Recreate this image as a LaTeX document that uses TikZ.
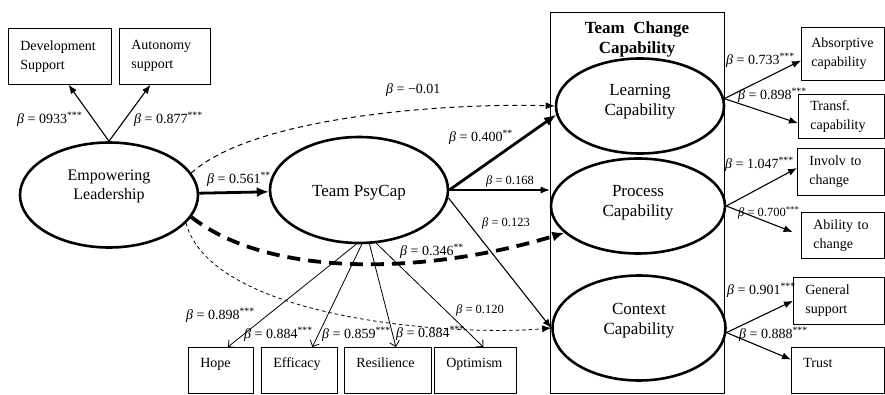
\documentclass[tikz,border=0pt]{standalone}
\usepackage{fontspec}
\setmainfont{Liberation Serif}
\usetikzlibrary{shapes.geometric,arrows.meta,calc}
\tikzset{
  >={Latex[length=9pt,width=7pt]},
  x=1pt, y=-1pt,
}
\tikzstyle{latent}=[draw,ellipse,line width=2.6pt,inner sep=0pt]
\tikzstyle{lattext}=[align=center,font=\fontsize{17}{20}\selectfont]
\tikzstyle{indicator}=[draw,line width=0.7pt,anchor=north west,align=left,inner xsep=12pt,font=\fontsize{14}{19}\selectfont]
\tikzstyle{single}=[indicator,text height=11pt,text depth=16pt,inner ysep=9.5pt]
\tikzstyle{coef}=[anchor=west,inner sep=0pt,font=\fontsize{14}{16}\selectfont]
\tikzstyle{smallcoef}=[coef,font=\fontsize{12.5}{14}\selectfont]
\tikzstyle{effect}=[->,line width=1.1pt]
\tikzstyle{strong}=[-{Latex[length=12pt,width=10pt]},line width=2.8pt]
\tikzstyle{loading}=[-{Straight Barb[length=5pt,width=10pt]},line width=0.8pt]
\tikzstyle{weak}=[->,dash pattern=on 5pt off 4pt,line width=1pt]
\tikzstyle{faint}=[->,dash pattern=on 3.5pt off 3pt,line width=0.8pt]
\tikzstyle{bold dash}=[-{Latex[length=12pt,width=10pt]},dash pattern=on 13pt off 8pt,line width=3.8pt]
\newcommand{\bcoef}[2]{\textit{β} = #1\textsuperscript{#2}}

\begin{document}
\begin{tikzpicture}
    \useasboundingbox (0,0) rectangle (885,395);
    % team change capability frame
    \node[draw,line width=0.8pt,anchor=north west,minimum width=174pt,minimum height=381pt,inner sep=0pt] (tcc) at (550,12) {};
    \node[font=\bfseries\fontsize{17}{20}\selectfont,align=center] (tcctitle) at (637,39) {Team\ \ Change\\Capability};

    % latent variables
    \node[latent,minimum width=178pt,minimum height=105pt,label={[lattext,font=\fontsize{16}{19}\selectfont,yshift=9pt]center:Empowering\\Leadership}] (emplead) at (109,195) {};
    \node[latent,minimum width=178pt,minimum height=106pt,label={[lattext,yshift=-3pt]center:Team PsyCap}] (psycap) at (359,190) {};
    \node[latent,minimum width=168pt,minimum height=95pt,label={[lattext,yshift=4pt]center:Learning\\Capability}] (learn) at (640,106) {};
    \node[latent,minimum width=174pt,minimum height=95pt,label={[lattext,yshift=3pt]center:Process\\Capability}] (process) at (638,206) {};
    \node[latent,minimum width=173pt,minimum height=105pt,label={[lattext,yshift=7pt]center:Context\\Capability}] (context) at (639,328) {};

    % indicators
    \node[indicator,text width=79pt,minimum height=56pt] (devsup) at (8,28) {Development\\Support};
    \node[indicator,text width=67pt,minimum height=56pt] (autsup) at (119,28) {Autonomy\\support};
    \node[indicator,inner xsep=10pt,text width=63pt,minimum height=53pt] (absorb) at (801,27) {Absorptive\\capability};
    \node[indicator,text width=62pt,minimum height=44pt] (transf) at (798,94) {Transf.\\capability};
    \node[indicator,text width=63pt,minimum height=47pt] (involv) at (797,148) {Involv to\\change};
    \node[indicator,text width=59pt,minimum height=46pt] (ability) at (801,212) {Ability to\\change};
    \node[indicator,text width=67pt,minimum height=47pt] (general) at (793,277) {General\\support};
    \node[single,text width=69pt] (trust) at (791,347) {Trust};
    \node[single,text width=41pt] (hope) at (188,347) {Hope};
    \node[single,text width=52pt] (efficacy) at (261,347) {Efficacy};
    \node[single,text width=63pt] (resil) at (344,347) {Resilience};
    \node[single,text width=58pt] (optim) at (434,347) {Optimism};

    % structural paths
    \draw[strong] (emplead) -- (psycap);
    \draw[weak] (emplead.15) to[out=42,in=178,looseness=0.62] (learn.west);
    \draw[bold dash] (emplead.-15) to[out=-38,in=197,out looseness=0.7,in looseness=0.95] (process.200);
    \draw[faint] (emplead.-20) to[out=-75,in=185,looseness=0.67] (context.west);
    \draw[strong] (psycap.east) -- (learn.186);
    \draw[effect] (psycap.east) -- (psycap.east -| process.west);
    \draw[effect] (psycap.-5) -- (context.west);

    % measurement paths
    \draw[effect] (emplead.north) -- (devsup.-73);
    \draw[effect] (emplead.north) -- (autsup.-117);
    \draw[loading] (psycap.267) -- ($(hope.north)+(7,0)$);
    \draw[loading] (psycap.273) -- ($(efficacy.north)+(13,0)$);
    \draw[loading] (psycap.281) -- ($(resil.north)+(8,0)$);
    \draw[loading] (psycap.288) -- ($(optim.north)+(8,0)$);
    \draw[effect] (learn.5) -- (absorb.189);
    \draw[effect] (learn.5) -- (transf.189);
    \draw[effect] (process.east) -- (involv.175);
    \draw[effect,shorten >=9pt] (process.east) -- (ability.west);
    \draw[effect] (context.-3) -- (general.west);
    \draw[effect] (context.-3) -- (trust.167);

    % coefficients
    \node[coef] (cdev) at (17,119) {\bcoef{0933}{***}};
    \node[coef] (caut) at (134,119) {\bcoef{0.877}{***}};
    \node[coef] (cpsy) at (207,179) {\bcoef{0.561}{**}};
    \node[coef] (clrn) at (386,90) {\bcoef{−0.01}{}};
    \node[coef] (cpl) at (449,137) {\bcoef{0.400}{**}};
    \node[smallcoef] (cpp) at (486,181) {\bcoef{0.168}{}};
    \node[smallcoef] (cpc) at (482,223) {\bcoef{0.123}{}};
    \node[coef] (cprc) at (400,251) {\bcoef{0.346}{**}};
    \node[smallcoef] (cctx) at (456,310) {\bcoef{0.120}{}};
    \node[coef] (chope) at (186,315) {\bcoef{0.898}{***}};
    \node[coef] (ceff) at (244,334) {\bcoef{0.884}{***}};
    \node[coef] (cres) at (322,334) {\bcoef{0.859}{***}};
    \node[coef] (copt) at (396,333) {\bcoef{0.884}{***}};
    \node[coef] (cabs) at (726,60) {\bcoef{0.733}{***}};
    \node[coef] (ctra) at (738,95) {\bcoef{0.898}{***}};
    \node[coef] (cinv) at (725,164) {\bcoef{1.047}{***}};
    \node[smallcoef] (cabl) at (738,213) {\bcoef{0.700}{***}};
    \node[coef] (cgen) at (727,290) {\bcoef{0.901}{***}};
    \node[coef] (ctru) at (739,334) {\bcoef{0.888}{***}};
\end{tikzpicture}
\end{document}
